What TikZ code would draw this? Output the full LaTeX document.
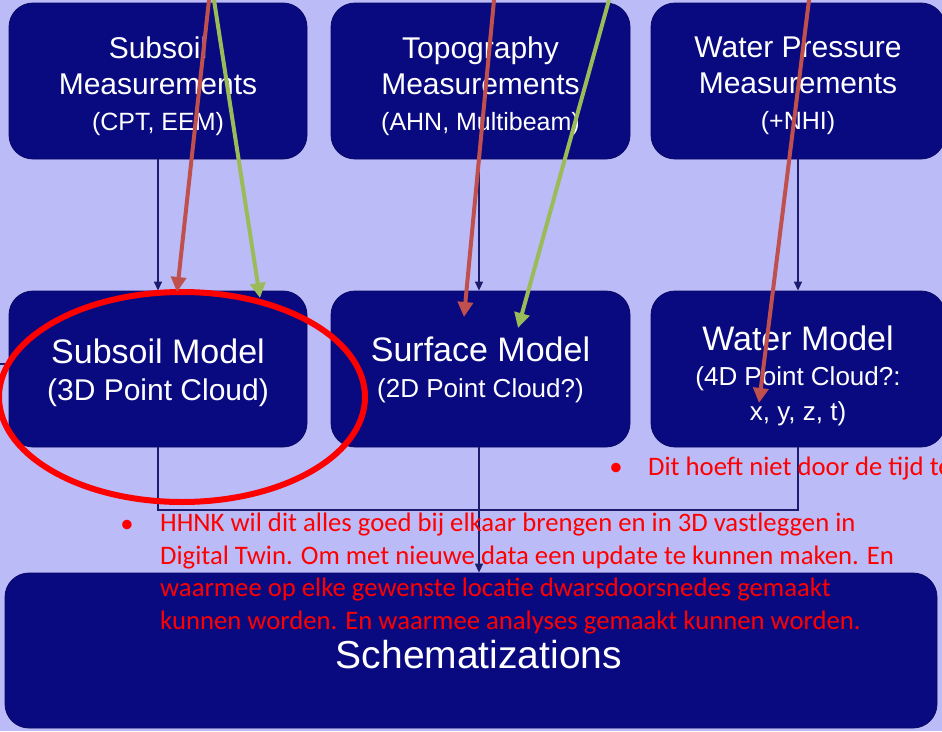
\documentclass[tikz,border=0pt]{standalone}
\usepackage{fontspec}
\setmainfont{Liberation Sans}
\newfontfamily\notefont{Carlito}
\usetikzlibrary{arrows.meta}
\definecolor{bgblue}{RGB}{187,187,248}
\definecolor{boxnavy}{RGB}{10,10,128}
\definecolor{linenavy}{RGB}{28,28,110}
\definecolor{markred}{RGB}{192,80,77}
\definecolor{markgreen}{RGB}{155,187,89}
\definecolor{notered}{RGB}{255,0,0}
\newcommand{\fs}[2]{\fontsize{#1}{#2}\selectfont}

\begin{document}
\begin{tikzpicture}[x=1pt,y=-1pt,
  box/.style={fill=boxnavy, draw=boxnavy!80!black, line width=0.8pt,
    rounded corners=24pt, inner sep=0pt},
  toprow/.style={box, minimum height=156pt},
  boxtext/.style={text=white, align=center, inner sep=0pt},
  conn/.style={draw=linenavy, line width=1.3pt},
  navyarrow/.style={conn, -{Triangle[length=9pt,width=8pt]}},
  redmark/.style={draw=markred, line width=4pt, -{Triangle[length=15pt,width=15pt]}},
  greenmark/.style={draw=markgreen, line width=4pt, -{Triangle[length=15pt,width=15pt]}},
  note/.style={text=notered, font=\notefont\fs{26.7}{32.5}, align=left, inner sep=0pt},
]
\useasboundingbox (0,0) rectangle (942,731);
\fill[bgblue] (0,0) rectangle (942,731);
\clip (0,0) rectangle (942,731);

% measurement boxes
\node[toprow, minimum width=298pt] (soilmeas) at (158,81) {};
\node[toprow, minimum width=299pt] (topomeas) at (480.5,81) {};
\node[toprow, minimum width=294pt] (watermeas) at (798,81) {};
\node[boxtext, font=\fs{30}{36}] (soilmeasT) at ([yshift=-5pt]soilmeas.center)
  {Subsoil\\Measurements\\{\fs{25}{30}(CPT, EEM)}};
\node[boxtext, font=\fs{30}{36}] (topomeasT) at ([yshift=-5pt]topomeas.center)
  {Topography\\Measurements\\{\fs{25}{30}(AHN, Multibeam)}};
\node[boxtext, font=\fs{30}{36}] (watermeasT) at ([yshift=-5pt]watermeas.center)
  {Water Pressure\\Measurements\\{\fs{25}{30}(+NHI)}};

% model boxes
\node[toprow, minimum width=298pt] (soilmod) at (158,369) {};
\node[toprow, minimum width=299pt] (surfmod) at (480.5,369) {};
\node[toprow, minimum width=294pt] (watermod) at (798,369) {};
\node[boxtext, font=\fs{34}{37}] (soilmodT) at ([yshift=-4pt]soilmod.center)
  {Subsoil Model\\{\fs{30}{34}(3D Point Cloud)}};
\node[boxtext, font=\fs{34}{36}] (surfmodT) at ([yshift=-1pt]surfmod.center)
  {Surface Model\\{\fs{26}{30}(2D Point Cloud?)}};
\node[boxtext, font=\fs{34}{35}] (watermodT) at ([yshift=-7pt]watermod.center)
  {Water Model\\{\fs{26}{30}(4D Point Cloud?:}\\{\fs{26}{30}x, y, z, t)}};

% schematizations
\node[box, minimum width=932pt, minimum height=155pt] (schem) at (471,650.5) {};
\node[boxtext, font=\fs{39}{44}] (schemT) at ([xshift=8pt,yshift=-4pt]schem.center)
  {Schematizations};

% flow connectors
\draw[navyarrow] (soilmeas.south) -- (soilmod.north);
\draw[navyarrow] (topomeas.south -| 479,0) -- (soilmod.north -| 479,0);
\draw[navyarrow] (watermeas.south) -- (watermod.north);
\coordinate (bus) at (0,510);
\draw[conn] (soilmod.south) -- (soilmod.south |- bus) -- (watermod.south |- bus) -- (watermod.south);
\draw[navyarrow] (surfmod.south -| 479,0) -- (schem.north -| 479,0);
\coordinate (stub) at (0,364);
\draw[conn] (stub) -- (stub -| soilmod.west);

% notes
\node[note, anchor=base] (bulletA) at (127,532) {•};
\node[note, anchor=north west] (noteA) at (160,513)
  {HHNK wil dit alles goed bij elkaar brengen en in 3D vastleggen in\\
   Digital Twin. Om met nieuwe data een update te kunnen maken. En\\
   waarmee op elke gewenste locatie dwarsdoorsnedes gemaakt\\
   kunnen worden. En waarmee analyses gemaakt kunnen worden.};
\node[note, anchor=base] (bulletB) at (616,475) {•};
\node[note, anchor=base west] (noteB) at (648,475) {Dit hoeft niet door de tijd te};

% highlight
\draw[notered, line width=6pt] (182,397) ellipse [x radius=183, y radius=105];

% annotation arrows
\coordinate (r1s) at (209,0);   \coordinate (r1e) at (177,292);
\coordinate (g1s) at (214,0);   \coordinate (g1e) at (260,298);
\coordinate (r2s) at (494,0);   \coordinate (r2e) at (464,317);
\coordinate (g2s) at (609,0);   \coordinate (g2e) at (518,328);
\coordinate (r3s) at (809,0);   \coordinate (r3e) at (759,403);
\draw[redmark] (r1s) -- (r1e);
\draw[greenmark] (g1s) -- (g1e);
\draw[redmark] (r2s) -- (r2e);
\draw[greenmark] (g2s) -- (g2e);
\draw[redmark] (r3s) -- (r3e);
\end{tikzpicture}
\end{document}
